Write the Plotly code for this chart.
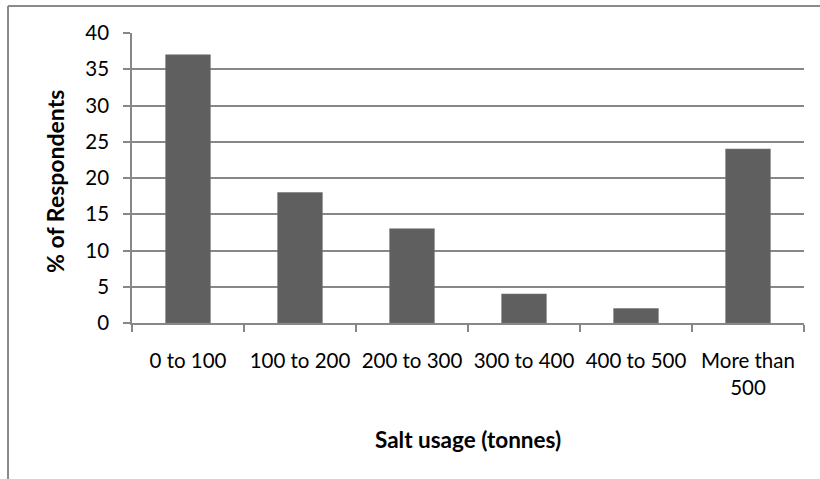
import plotly.graph_objects as go

categories = ["0 to 100", "100 to 200", "200 to 300", "300 to 400", "400 to 500", "More than<br>500"]
respondents_pct = [37, 18, 13, 4, 2, 24]
y_ticks = [0, 5, 10, 15, 20, 25, 30, 35, 40]

FONT = "Lato, Carlito, Calibri, sans-serif"
GRID = "#878787"

fig = go.Figure(
    go.Bar(
        x=categories,
        y=respondents_pct,
        marker=dict(color="#5f5f5f", line=dict(color="#7a7a7a", width=0.6)),
        width=0.4,
    )
)

fig.update_layout(
    width=820,
    height=479,
    margin=dict(l=132, r=16, t=33, b=156),
    paper_bgcolor="white",
    plot_bgcolor="white",
    showlegend=False,
    font=dict(family=FONT, size=20.5, color="#000000"),
    bargap=0.6,
)

fig.update_xaxes(
    type="category",
    automargin=False,
    tickangle=0,
    showline=True,
    linecolor=GRID,
    linewidth=1.5,
    ticks="outside",
    tickson="boundaries",
    ticklen=7,
    tickcolor=GRID,
    tickwidth=1.5,
    showgrid=False,
    ticklabelstandoff=19,
    tickfont=dict(family=FONT, size=20.5),
)

fig.update_yaxes(
    range=[0, 40],
    automargin=False,
    tickvals=y_ticks,
    showline=True,
    linecolor=GRID,
    linewidth=1.5,
    ticks="outside",
    ticklen=7,
    tickcolor=GRID,
    tickwidth=1.5,
    showgrid=True,
    gridcolor=GRID,
    gridwidth=1.5,
    zeroline=False,
    ticklabelstandoff=10,
    tickfont=dict(family=FONT, size=20.5),
)

# Axis titles
fig.add_annotation(
    text="<b>% of Respondents</b>", xref="paper", yref="paper",
    x=-0.1146, y=0.49, xanchor="center", yanchor="middle",
    textangle=-90, showarrow=False, font=dict(family=FONT, size=23),
)
fig.add_annotation(
    text="<b>Salt usage (tonnes)</b>", xref="paper", yref="paper",
    x=0.5, y=-0.40, xanchor="center", yanchor="middle",
    showarrow=False, font=dict(family=FONT, size=22.5),
)

# Chart frame (top and left edges)
fig.add_shape(type="line", xref="paper", yref="paper",
              x0=-0.1845, x1=1.1, y0=1.0931, y1=1.0931,
              line=dict(color="#8a8a8a", width=2))
fig.add_shape(type="line", xref="paper", yref="paper",
              x0=-0.1845, x1=-0.1845, y0=1.0931, y1=-0.6,
              line=dict(color="#8a8a8a", width=2))

fig.write_html("out.html")
